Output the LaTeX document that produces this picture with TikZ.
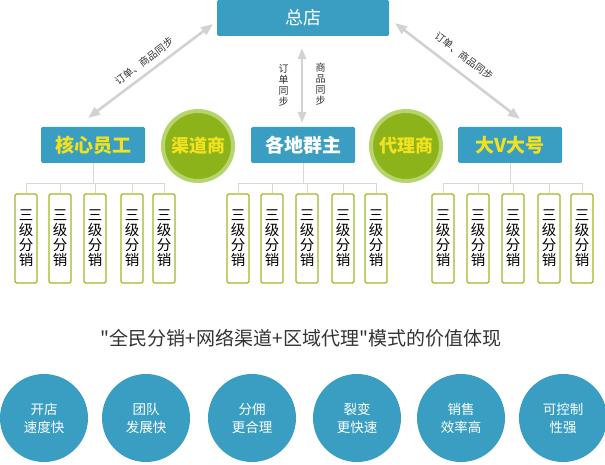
\documentclass[tikz,border=0pt]{standalone}
\usepackage{fontspec}
\setmainfont{Noto Sans CJK SC}[Ligatures=TeXOff]
\usetikzlibrary{arrows.meta}
\definecolor{boxblue}{HTML}{3A9EC2}
\definecolor{ytext}{HTML}{F2E21E}
\definecolor{gfill}{HTML}{8DB31B}
\definecolor{gring}{HTML}{B8D46C}
\definecolor{sborder}{HTML}{9CBA2A}
\definecolor{agray}{HTML}{D2D2D2}
\definecolor{tgray}{HTML}{D8D8D8}
\definecolor{dtext}{HTML}{333333}
\tikzset{
  mainbox/.style={fill=boxblue, minimum width=104pt, minimum height=36pt, rounded corners=1.5pt, inner sep=0pt, font=\fontsize{19}{19}\selectfont\bfseries},
  gcirc/.style={circle, fill=gfill, draw=gring, line width=4pt, minimum size=70pt, inner sep=0pt, text=ytext, font=\fontsize{18}{18}\selectfont\bfseries},
  sbox/.style={draw=sborder, line width=1.1pt, fill=white, minimum width=22pt, minimum height=89pt, rounded corners=1.5pt, inner sep=0pt, align=center, font=\fontsize{14.5}{15}\selectfont},
  bcirc/.style={circle, fill=boxblue, minimum size=88pt, inner sep=0pt, text=white, align=center, font=\fontsize{13.5}{18}\selectfont},
  syncarrow/.style={draw=agray, line width=2.6pt, {Triangle[length=12pt,width=9pt]}-{Triangle[length=12pt,width=9pt]}},
  tree/.style={draw=tgray, line width=0.8pt},
  lbl/.style={font=\fontsize{10}{11}\selectfont, text=dtext, inner sep=0pt},
}
\begin{document}
\begin{tikzpicture}[x=1pt,y=-1pt]
\useasboundingbox (0,0) rectangle (605,465);
% top box
\node[mainbox, minimum width=172pt, font=\fontsize{18}{18}\selectfont, text=white] (hq) at (303,18) {总店};
% main boxes
\node[mainbox, text=ytext] (k) at (93,145) {核心员工};
\node[mainbox, text=white] (g) at (303,145) {各地群主};
\node[mainbox, text=ytext] (v) at (510,145) {大V大号};
% green circles
\node[gcirc] (qd) at (198,146) {渠道商};
\node[gcirc] (dl) at (406,146) {代理商};
% sync arrows
\coordinate (la1) at (213,24);
\coordinate (la2) at (88,118);
\coordinate (ra1) at (395,23);
\coordinate (ra2) at (520,119);
\coordinate (va1) at (302,48);
\coordinate (va2) at (302,123);
\draw[syncarrow] (la2) -- (la1);
\draw[syncarrow] (ra1) -- (ra2);
\draw[syncarrow, {Triangle[length=11pt,width=8pt]}-{Triangle[length=11pt,width=8pt]}] (va1) -- (va2);
\node[lbl, rotate=37] (ll) at (144,61) {订单、商品同步};
\node[lbl, rotate=-37] (rl) at (464,56) {订单、商品同步};
\node[lbl, align=center] (vl1) at (283.5,85) {订\\单\\同\\步};
\node[lbl, align=center] (vl2) at (320.5,84) {商\\品\\同\\步};
% small boxes
\foreach \n/\x in {k1/26,k2/60,k3/95,k4/132,k5/164,g1/238,g2/272,g3/307,g4/343,g5/376,v1/443,v2/478,v3/513,v4/549,v5/582}{
  \node[sbox] (\n) at (\x,238.5) {三\\级\\分\\销};
}
% trees
\foreach \p in {k,g,v}{
  \draw[tree] (\p.south) -- (\p.south |- 0,183);
  \draw[tree] (\p1.north |- 0,183) -- (\p5.north |- 0,183);
  \foreach \i in {1,...,5}{
    \draw[tree] (\p\i.north) -- (\p\i.north |- 0,183);
  }
}
% title
\node[text=dtext, font=\fontsize{19}{19}\selectfont, inner sep=0pt] (title) at (301,338) {"全民分销+网络渠道+区域代理"模式的价值体现};
% bottom circles
\node[bcirc] (c1) at (44,418) {开店\\速度快};
\node[bcirc] (c2) at (146,418) {团队\\发展快};
\node[bcirc] (c3) at (252,418) {分佣\\更合理};
\node[bcirc] (c4) at (357,418) {裂变\\更快速};
\node[bcirc] (c5) at (461,418) {销售\\效率高};
\node[bcirc] (c6) at (563,418) {可控制\\性强};
\end{tikzpicture}
\end{document}
